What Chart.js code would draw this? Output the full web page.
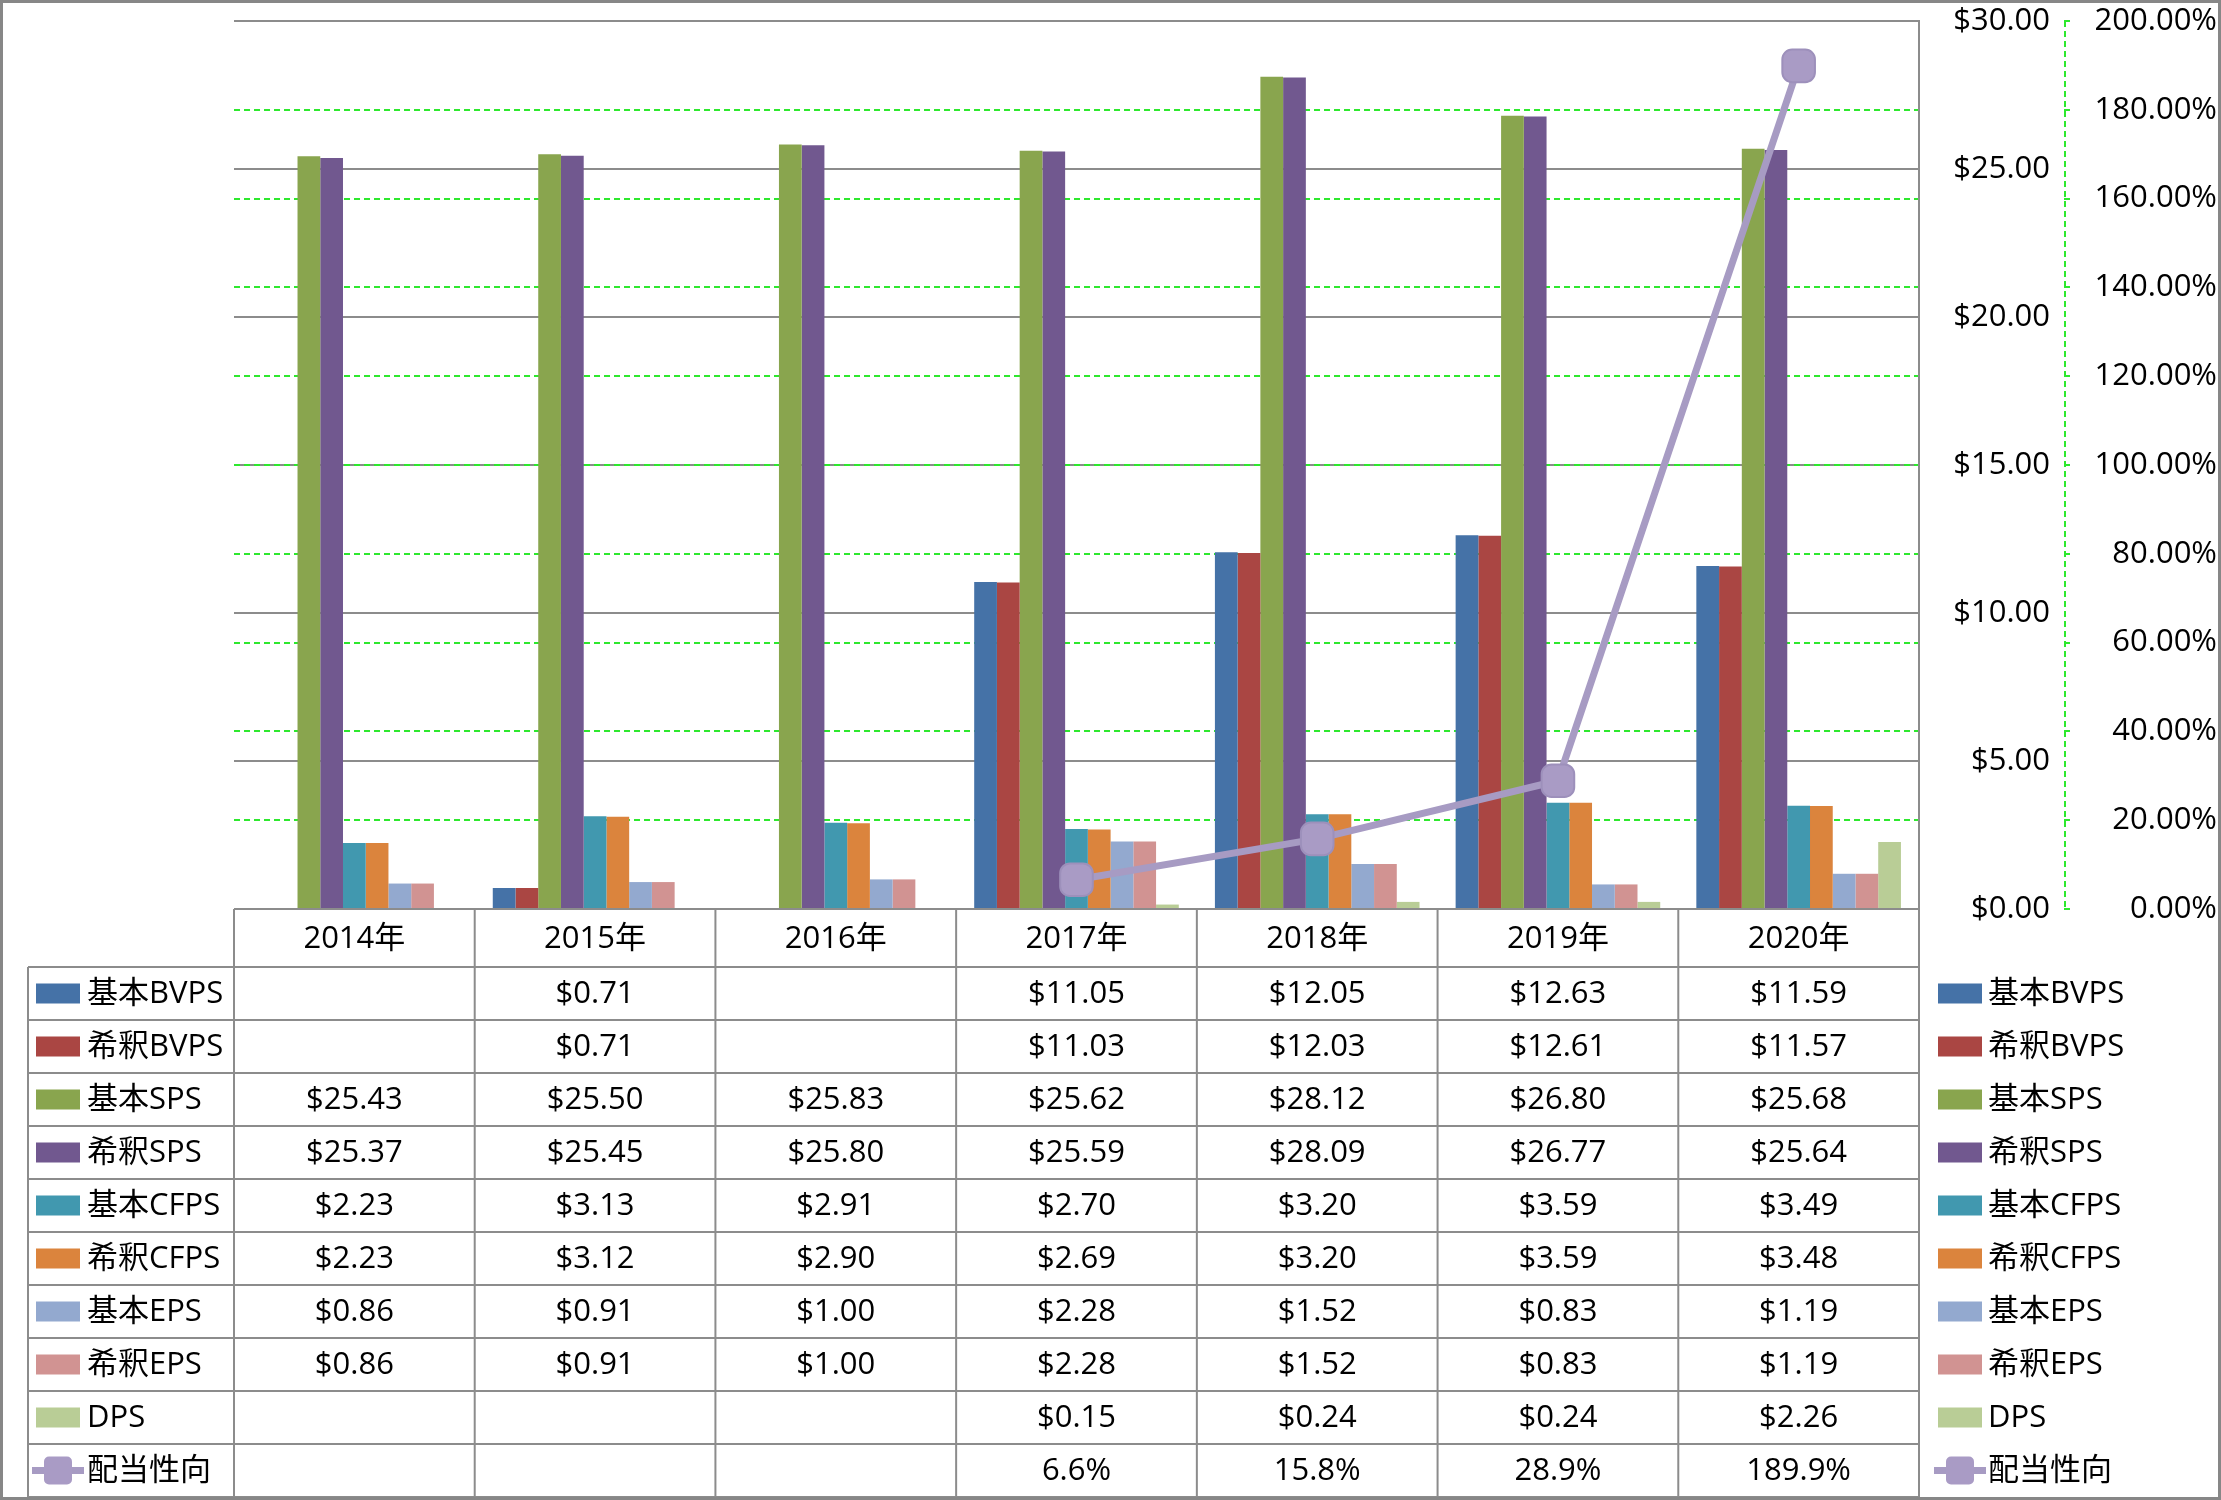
<!DOCTYPE html>
<html>
<head>
<meta charset="utf-8">
<script src="https://cdn.jsdelivr.net/npm/chart.js@4"></script>
<style>
  body { margin: 0; background: #fff; }
  canvas { display: block; }
</style>
</head>
<body>
<canvas id="chart" width="2221" height="1500"></canvas>
<script>
const years = ["2014年", "2015年", "2016年", "2017年", "2018年", "2019年", "2020年"];

const basicBVPS = [null, 0.71, null, 11.05, 12.05, 12.63, 11.59];
const dilutedBVPS = [null, 0.71, null, 11.03, 12.03, 12.61, 11.57];
const basicSPS = [25.43, 25.50, 25.83, 25.62, 28.12, 26.80, 25.68];
const dilutedSPS = [25.37, 25.45, 25.80, 25.59, 28.09, 26.77, 25.64];
const basicCFPS = [2.23, 3.13, 2.91, 2.70, 3.20, 3.59, 3.49];
const dilutedCFPS = [2.23, 3.12, 2.90, 2.69, 3.20, 3.59, 3.48];
const basicEPS = [0.86, 0.91, 1.00, 2.28, 1.52, 0.83, 1.19];
const dilutedEPS = [0.86, 0.91, 1.00, 2.28, 1.52, 0.83, 1.19];
const dps = [null, null, null, 0.15, 0.24, 0.24, 2.26];
const payoutRatio = [null, null, null, 6.6, 15.8, 28.9, 189.9];

const FONT = '"Open Sans", "Noto Sans CJK JP", sans-serif';
const FONT_SIZE = 31;
const GRID_GRAY = "#8c8c8c";
const GRID_GREEN = "#2ee82e";
const LINE_COLOR = "#a79bc3";

const bar = (label, values, color) => ({
  type: "bar",
  label: label,
  data: values,
  backgroundColor: color,
  yAxisID: "y",
  order: 1,
});

const datasets = [
  bar("基本BVPS", basicBVPS, "#4572a7"),
  bar("希釈BVPS", dilutedBVPS, "#aa4643"),
  bar("基本SPS", basicSPS, "#89a54e"),
  bar("希釈SPS", dilutedSPS, "#71588f"),
  bar("基本CFPS", basicCFPS, "#4198af"),
  bar("希釈CFPS", dilutedCFPS, "#db843d"),
  bar("基本EPS", basicEPS, "#93a9cf"),
  bar("希釈EPS", dilutedEPS, "#d19392"),
  bar("DPS", dps, "#b9cd96"),
  {
    type: "line",
    label: "配当性向",
    data: payoutRatio,
    borderColor: LINE_COLOR,
    borderWidth: 7,
    backgroundColor: "#a99bc5",
    pointStyle: "rectRounded",
    pointRadius: 19,
    pointBorderColor: "#9d90bb",
    pointBorderWidth: 2,
    yAxisID: "y1",
    order: 0,
  },
];

// fixed axis widths, and keep the plot area where the layout padding puts it
const fixWidth = (width) => (s) => {
  s.width = width;
  s.paddingTop = 0;
  s.paddingBottom = 0;
};

// data table under the plot plus legend on the right
const tablePlugin = {
  id: "dataTable",
  beforeDraw(chart) {
    const ctx = chart.ctx;
    ctx.save();
    ctx.fillStyle = "#fff";
    ctx.fillRect(0, 0, chart.width, chart.height);
    ctx.restore();
  },
  afterDraw(chart) {
    const ctx = chart.ctx;
    const area = chart.chartArea;
    const xs = chart.scales.x;
    const n = years.length;
    const colW = (area.right - area.left) / n;
    const headTop = area.bottom;
    const headBottom = headTop + 58;
    const rowH = 53;
    const sets = chart.data.datasets;
    const tableBottom = headBottom + rowH * sets.length;
    const labelLeft = 28;
    const legendX = 1938;

    ctx.save();

    // dashed axis line of the percent axis
    const y1 = chart.scales.y1;
    ctx.strokeStyle = GRID_GREEN;
    ctx.lineWidth = 2;
    ctx.setLineDash([6, 4]);
    ctx.beginPath();
    ctx.moveTo(y1.left + 1, area.top);
    ctx.lineTo(y1.left + 1, area.bottom);
    ctx.stroke();
    ctx.setLineDash([]);

    ctx.strokeStyle = GRID_GRAY;
    ctx.beginPath();
    ctx.moveTo(area.left, headTop);
    ctx.lineTo(area.right, headTop);
    for (let r = 0; r <= sets.length; r++) {
      const y = headBottom + r * rowH;
      ctx.moveTo(labelLeft, y);
      ctx.lineTo(area.right, y);
    }
    for (let c = 0; c <= n; c++) {
      const x = area.left + c * colW;
      ctx.moveTo(x, headTop);
      ctx.lineTo(x, tableBottom);
    }
    ctx.moveTo(labelLeft, headBottom);
    ctx.lineTo(labelLeft, tableBottom);
    ctx.stroke();

    ctx.font = FONT_SIZE + "px " + FONT;
    ctx.fillStyle = "#000";
    ctx.textBaseline = "middle";

    ctx.textAlign = "center";
    years.forEach((yr, i) => {
      ctx.fillText(yr, xs.getPixelForValue(i), (headTop + headBottom) / 2 + 1);
    });

    const drawKey = (ds, x, yc) => {
      if (ds.type === "line") {
        ctx.strokeStyle = ds.borderColor;
        ctx.lineWidth = 7;
        ctx.beginPath();
        ctx.moveTo(x - 4, yc);
        ctx.lineTo(x + 48, yc);
        ctx.stroke();
        ctx.fillStyle = ds.backgroundColor;
        ctx.beginPath();
        ctx.roundRect(x + 8, yc - 14, 28, 28, 5);
        ctx.fill();
      } else {
        ctx.fillStyle = ds.backgroundColor;
        ctx.fillRect(x, yc - 10, 44, 20);
      }
    };

    sets.forEach((ds, r) => {
      const yc = headBottom + r * rowH + rowH / 2;
      drawKey(ds, 36, yc);
      ctx.fillStyle = "#000";
      ctx.textAlign = "left";
      ctx.fillText(ds.label, 87, yc + 1);
      ctx.textAlign = "center";
      ds.data.forEach((v, i) => {
        if (v === null) return;
        const txt = ds.type === "line" ? v.toFixed(1) + "%" : "$" + v.toFixed(2);
        ctx.fillText(txt, xs.getPixelForValue(i), yc + 1);
      });
      drawKey(ds, legendX, yc);
      ctx.fillStyle = "#000";
      ctx.textAlign = "left";
      ctx.fillText(ds.label, legendX + 50, yc + 1);
    });

    ctx.strokeStyle = "#878787";
    ctx.lineWidth = 3;
    ctx.strokeRect(1.5, 1.5, chart.width - 3, chart.height - 3);
    ctx.restore();
  },
};

const config = {
  data: {
    labels: years,
    datasets: datasets,
  },
  options: {
    responsive: false,
    animation: false,
    layout: {
      padding: { top: 21, left: 234, right: 4, bottom: 591 },
    },
    datasets: {
      bar: {
        categoryPercentage: 0.85,
        barPercentage: 1.0,
      },
    },
    plugins: {
      legend: { display: false },
      tooltip: { enabled: false },
    },
    scales: {
      x: {
        display: false,
      },
      y: {
        position: "right",
        min: 0,
        max: 30,
        ticks: {
          stepSize: 5,
          crossAlign: "far",
          color: "#000",
          font: { family: FONT, size: FONT_SIZE },
          callback: (v) => "$" + v.toFixed(2),
        },
        grid: {
          color: GRID_GRAY,
          lineWidth: 2,
          drawTicks: false,
        },
        border: { display: true, color: GRID_GRAY, width: 2 },
        afterFit: fixWidth(131),
      },
      gap: {
        type: "linear",
        position: "right",
        ticks: { display: false },
        grid: { display: false },
        border: { display: false },
        afterFit: fixWidth(14),
      },
      y1: {
        position: "right",
        min: 0,
        max: 200,
        ticks: {
          stepSize: 20,
          crossAlign: "far",
          color: "#000",
          font: { family: FONT, size: FONT_SIZE },
          callback: (v) => v.toFixed(2) + "%",
        },
        grid: {
          color: (c) => (c.tick && (c.tick.value === 0 || c.tick.value === 200) ? "rgba(0,0,0,0)" : GRID_GREEN),
          tickColor: GRID_GREEN,
          lineWidth: 2,
          tickLength: 10,
          tickBorderDash: [6, 4],
        },
        border: { display: false, dash: [6, 4] },
        afterFit: fixWidth(153),
      },
    },
  },
  plugins: [tablePlugin],
};

const myChart = new Chart(document.getElementById("chart"), config);
</script>
</body>
</html>
